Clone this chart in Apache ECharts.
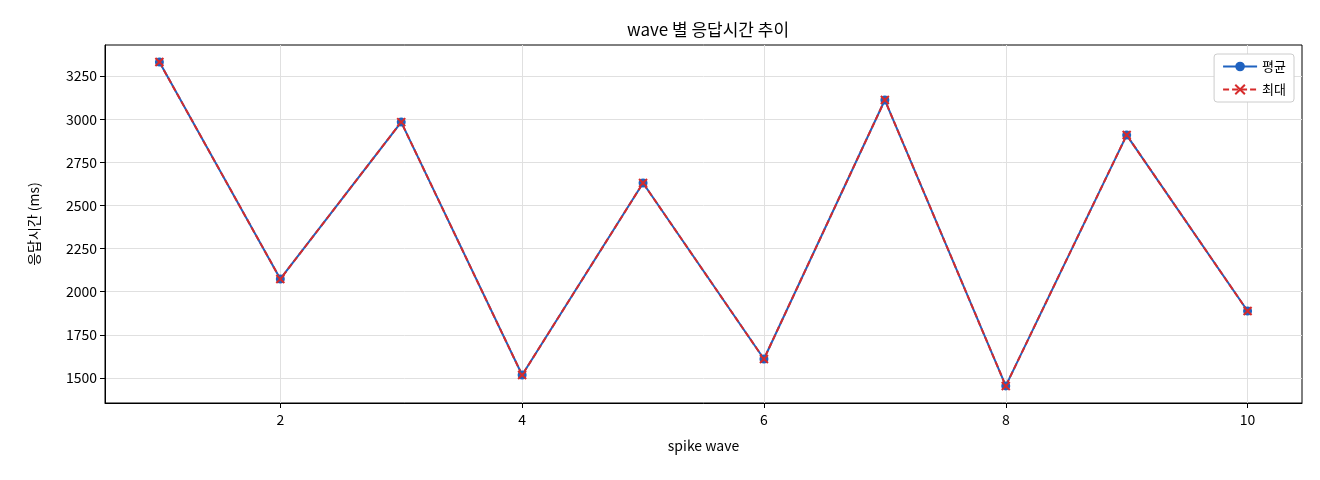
<!DOCTYPE html>
<html><head><meta charset="utf-8">
<script src="https://cdn.jsdelivr.net/npm/echarts@6/dist/echarts.min.js"></script>
<style>html,body{margin:0;padding:0;background:#fff}#c{width:1320px;height:480px}</style>
</head><body><div id="c"></div>
<script>
const waves = [1,2,3,4,5,6,7,8,9,10];
const avgMs = [3331,2074,2983,1517,2630,1610,3111,1454,2908,1888];
const maxMs = [3331,2074,2983,1517,2630,1610,3111,1454,2908,1888];
const xTicks = [2,4,6,8,10];
const yTicks = [1500,1750,2000,2250,2500,2750,3000,3250];
const F = "'Noto Sans CJK KR','DejaVu Sans',sans-serif";
const xPath = 'path://M0,0L10,10M10,0L0,10';
const chart = echarts.init(document.getElementById('c'));
chart.setOption({
  animation:false,
  textStyle:{fontFamily:F},
  title:{text:'wave 별 응답시간 추이',left:703,top:16,textAlign:'center',textStyle:{fontFamily:F,fontSize:17,fontWeight:'normal',color:'#000'}},
  legend:{right:26,top:54,orient:'vertical',itemWidth:34,itemHeight:12,itemGap:10,
    backgroundColor:'#fff',borderColor:'#ccc',borderWidth:1,borderRadius:3,padding:[6,8],
    textStyle:{fontFamily:F,fontSize:13,color:'#000'},
    data:['평균','최대']},
  grid:{left:105,right:18,top:45,bottom:77,show:true,borderColor:'#000',borderWidth:1},
  xAxis:{type:'value',min:0.55,max:10.45,name:'spike wave',nameLocation:'middle',nameGap:36,
    nameTextStyle:{fontFamily:F,fontSize:14,color:'#000'},
    axisLine:{lineStyle:{color:'#000'}},
    axisTick:{show:true,customValues:xTicks,length:5,lineStyle:{color:'#000'}},
    axisLabel:{customValues:xTicks,fontSize:14,color:'#000',fontFamily:F,margin:10},
    splitLine:{show:true,lineStyle:{color:'#e0e0e0'}}},
  yAxis:{type:'value',min:1355,max:3430,name:'응답시간 (ms)',nameLocation:'middle',nameGap:64,
    nameTextStyle:{fontFamily:F,fontSize:14,color:'#000'},
    axisLine:{show:true,lineStyle:{color:'#000'}},
    axisTick:{show:true,customValues:yTicks,length:5,lineStyle:{color:'#000'}},
    axisLabel:{customValues:yTicks,fontSize:14,color:'#000',fontFamily:F,formatter:v=>String(v)},
    splitLine:{show:true,lineStyle:{color:'#e0e0e0'}}},
  series:[
    {name:'평균',type:'line',data:waves.map((w,i)=>[w,avgMs[i]]),symbol:'circle',symbolSize:9,
     lineStyle:{color:'#1f62c0',width:2},itemStyle:{color:'#1f62c0'}},
    {name:'최대',type:'line',data:waves.map((w,i)=>[w,maxMs[i]]),symbol:xPath,symbolSize:8,
     lineStyle:{color:'#d62b2b',width:2,type:[6,3]},itemStyle:{color:'#d62b2b',borderColor:'#d62b2b',borderWidth:2}}
  ]
});
</script></body></html>
